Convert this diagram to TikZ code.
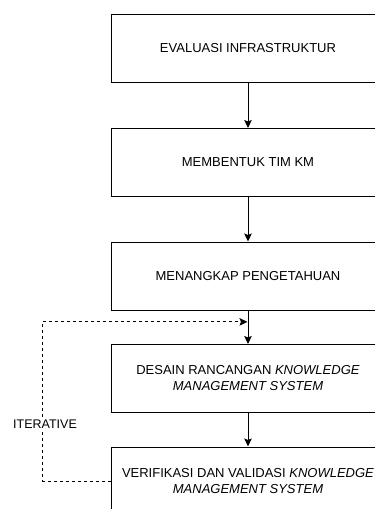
\documentclass[tikz,border=0pt]{standalone}
\usepackage{fontspec}
\setmainfont{Liberation Sans}
\usetikzlibrary{arrows.meta,calc}

\tikzset{
  stagebox/.style={draw=black, line width=1pt, minimum width=274pt, minimum height=68pt,
    align=center, inner sep=0pt, font=\fontsize{13}{16}\selectfont},
  flow/.style={draw=black, line width=1pt, -{Stealth[length=8pt,width=7.5pt,inset=1.5pt]}},
  loopback/.style={draw=black, line width=1pt, dash pattern=on 3pt off 3pt,
    -{Stealth[length=8pt,width=7.5pt,inset=1.5pt]}},
  looplabel/.style={fill=white, inner sep=1pt, font=\fontsize{12.5}{15}\selectfont}
}

\begin{document}
\begin{tikzpicture}[x=1pt,y=-1pt]
  \useasboundingbox (0,0) rectangle (375,509);
  \clip (0,0) rectangle (375,509);

  % process stages
  \node[stagebox] (b1) at (248,48)    {EVALUASI INFRASTRUKTUR};
  \node[stagebox] (b2) at (248,162.5) {MEMBENTUK TIM KM};
  \node[stagebox] (b3) at (248,276)   {MENANGKAP PENGETAHUAN};
  \node[stagebox] (b4) at (248,378.5) {DESAIN RANCANGAN \textit{KNOWLEDGE}\\ \textit{MANAGEMENT SYSTEM}};
  \node[stagebox] (b5) at (248,481)   {VERIFIKASI DAN VALIDASI \textit{KNOWLEDGE}\\ \textit{MANAGEMENT SYSTEM}};

  % forward flow
  \draw[flow] (b1.south) -- (b2.north);
  \draw[flow] (b2.south) -- (b3.north);
  \draw[flow] (b3.south) -- (b4.north);
  \draw[flow] (b4.south) -- (b5.north);

  % iteration loop back into the design step
  \coordinate (m) at ($(b3.south)!0.34!(b4.north)$);
  \coordinate (turn) at ($(b5.west)+(-68,0)$);
  \draw[loopback, shorten >=0.5pt] (b5.west) -- (turn) |- (m);
  \node[looplabel] (it) at (45,424) {ITERATIVE};
\end{tikzpicture}
\end{document}
